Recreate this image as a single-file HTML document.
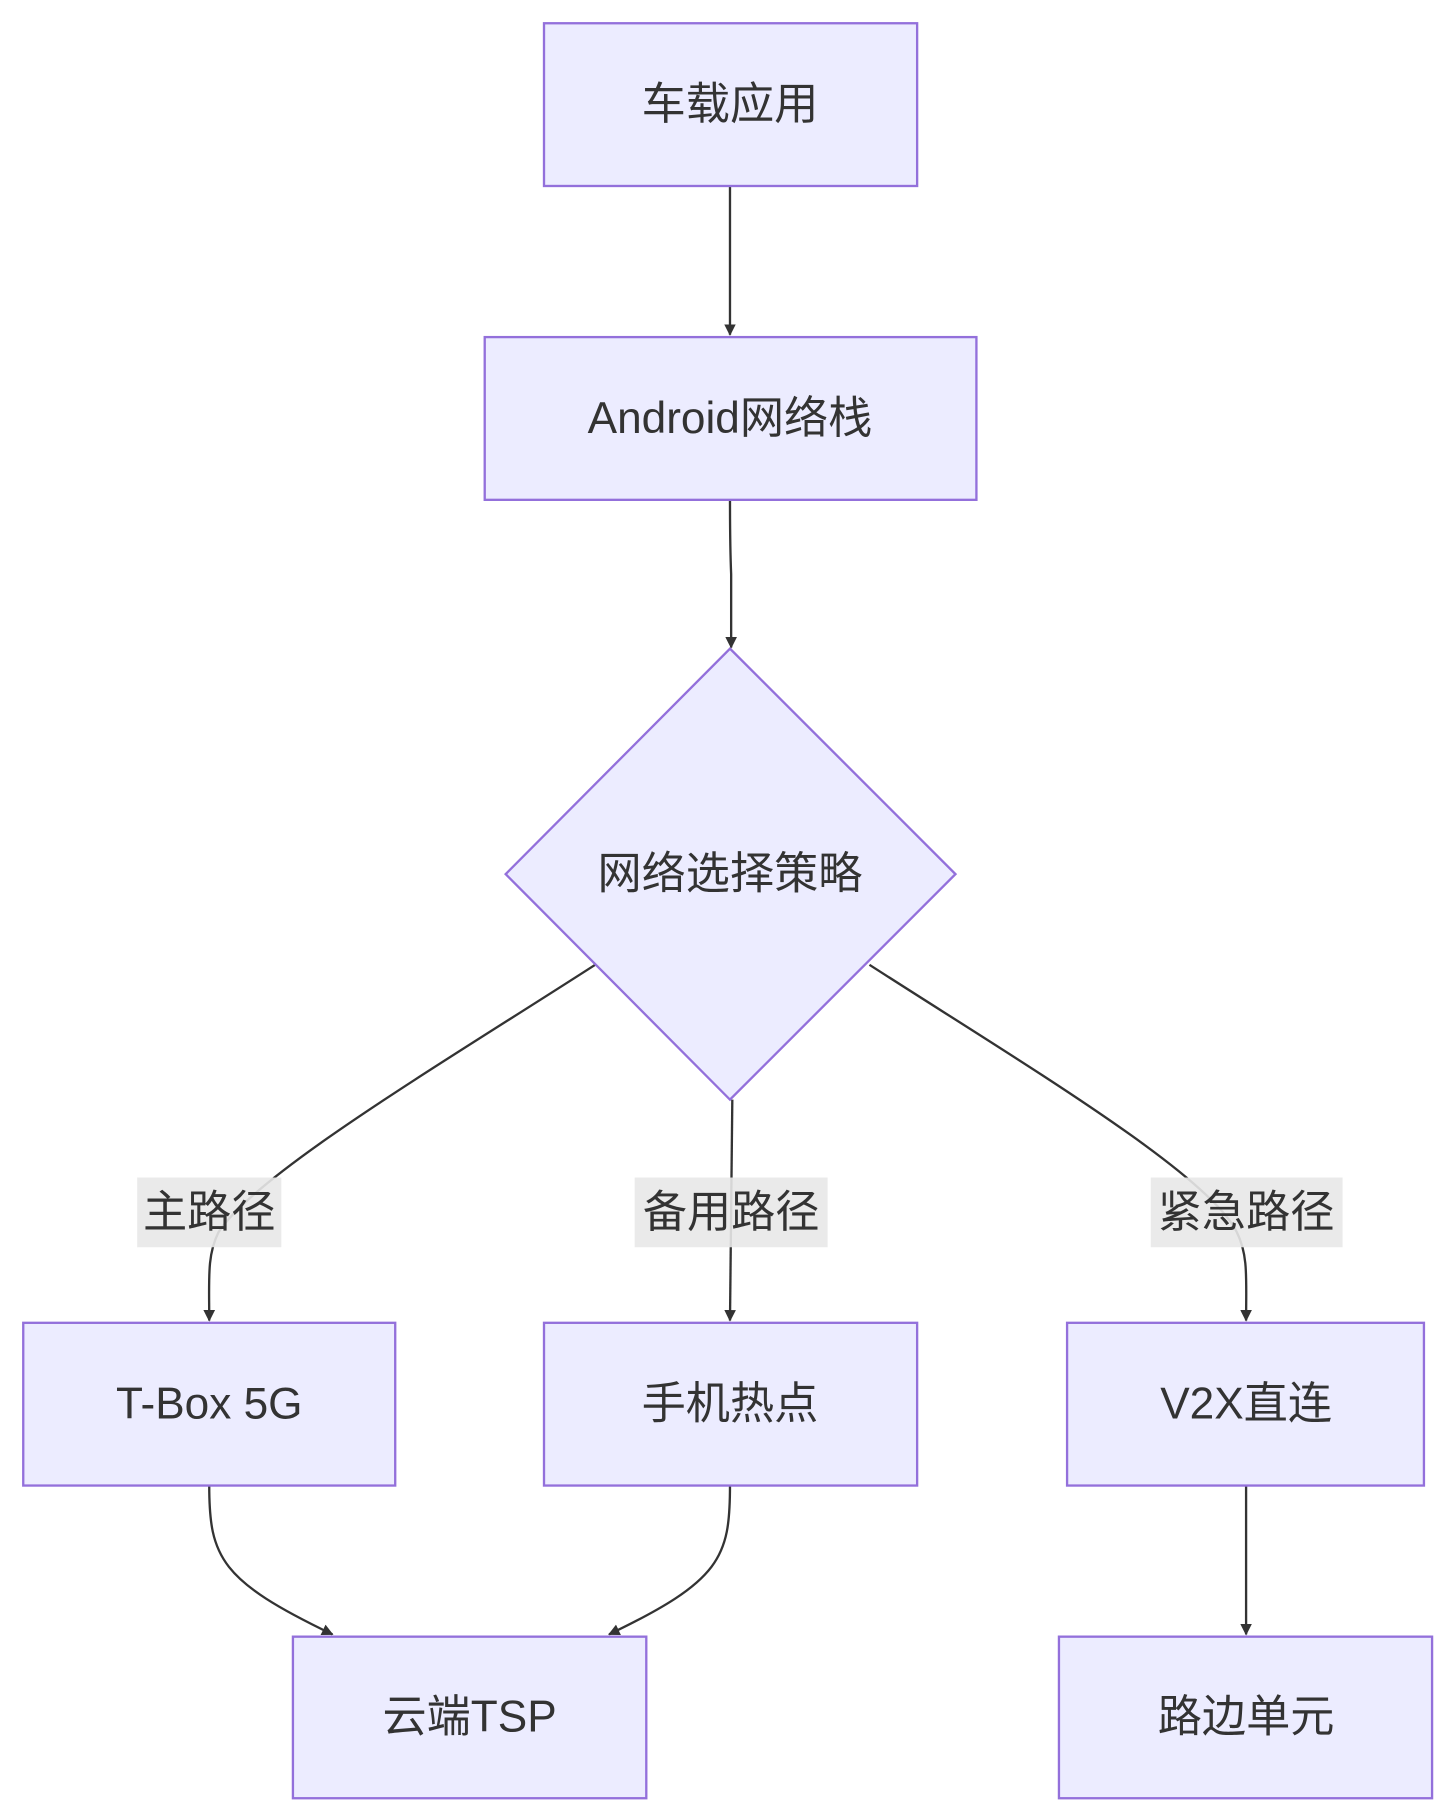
<!DOCTYPE html>
<html><head><meta charset="utf-8"><style>
html,body{margin:0;padding:0;background:#fff;}
svg{display:block;}
text{font-family:"Liberation Sans","Noto Sans CJK SC",sans-serif;fill:#333;font-size:38px;text-anchor:middle;dominant-baseline:central;}
.n{fill:#ECECFF;stroke:#9370DB;stroke-width:2;}
.e{fill:none;stroke:#333;stroke-width:2;}
</style></head><body>
<svg width="1453" height="1818" viewBox="0 0 1250 1564" preserveAspectRatio="none">
<defs><marker id="a" viewBox="0 0 10 10" refX="9" refY="5" markerWidth="10" markerHeight="10" markerUnits="userSpaceOnUse" orient="auto"><path d="M0,0L10,5L0,10z" fill="#333"/></marker></defs>
<path class="e" d="M628,160V288" marker-end="url(#a)"/>
<path class="e" d="M628,430Q628,470 629,494V557" marker-end="url(#a)"/>
<path class="e" d="M512,830C380,915 220,1010 188,1060C178,1080 180,1100 180,1136" marker-end="url(#a)"/>
<path class="e" d="M630,946L628,1136" marker-end="url(#a)"/>
<path class="e" d="M748,830C880,915 1040,1010 1064,1060C1074,1080 1072,1100 1072,1136" marker-end="url(#a)"/>
<path class="e" d="M180,1278C180,1340 190,1360 286,1406" marker-end="url(#a)"/>
<path class="e" d="M628,1278C628,1340 620,1360 524,1406" marker-end="url(#a)"/>
<path class="e" d="M1072,1278V1406" marker-end="url(#a)"/>
<rect class="n" x="468" y="20" width="321" height="140"/><text x="628" y="90">车载应用</text>
<rect class="n" x="417" y="290" width="423" height="140"/><text x="628" y="360">Android网络栈</text>
<path class="n" d="M628,558L822,752L628,946L435,752Z"/><text x="628" y="752">网络选择策略</text>
<rect x="118" y="1013" width="124" height="60" fill="#e8e8e8" opacity="0.9"/><text x="180" y="1043">主路径</text>
<rect x="546" y="1013" width="166" height="60" fill="#e8e8e8" opacity="0.9"/><text x="629" y="1043">备用路径</text>
<rect x="990" y="1013" width="165" height="60" fill="#e8e8e8" opacity="0.9"/><text x="1072" y="1043">紧急路径</text>
<rect class="n" x="20" y="1138" width="320" height="140"/><text x="180" y="1208">T-Box 5G</text>
<rect class="n" x="468" y="1138" width="321" height="140"/><text x="628" y="1208">手机热点</text>
<rect class="n" x="918" y="1138" width="307" height="140"/><text x="1072" y="1208">V2X直连</text>
<rect class="n" x="252" y="1408" width="304" height="139"/><text x="404" y="1477">云端TSP</text>
<rect class="n" x="911" y="1408" width="321" height="139"/><text x="1072" y="1477">路边单元</text>
</svg>
</body></html>
